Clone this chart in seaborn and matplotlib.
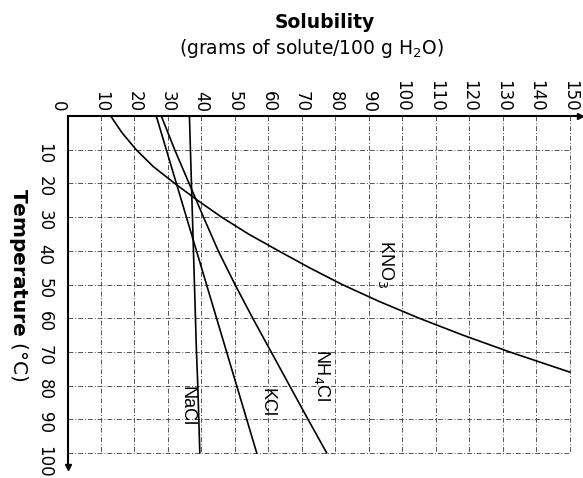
import matplotlib
matplotlib.use("Agg")
import matplotlib.pyplot as plt
import seaborn as sns
import pandas as pd

# solubility curves (grams solute / 100 g water)
temps = [0, 10, 20, 30, 40, 50, 60, 70, 80, 90, 100]
kno3_temps = [0, 5, 10, 15, 20, 25, 30, 35, 40, 45, 50, 55, 60, 65, 70, 73, 76]
kno3 = [12.9, 16.3, 20.5, 25.6, 32, 38.8, 46, 54, 63, 72.2, 82, 93, 105, 118, 132, 141, 150]
nh4cl = [28, 32, 36.3, 40.6, 45, 50, 55.3, 60.8, 66.3, 71.8, 77.4]
kcl = [26.5, 29.5, 32.5, 35.5, 38.5, 41.5, 44.5, 47.5, 50.5, 53.5, 56.5]
nacl = [36.4, 36.7, 37.0, 37.3, 37.6, 37.9, 38.2, 38.5, 38.9, 39.2, 39.5]

sol_ticks = [10, 20, 30, 40, 50, 60, 70, 80, 90, 100, 110, 120, 130, 140, 150]
temp_ticks = [10, 20, 30, 40, 50, 60, 70, 80, 90, 100]

frames = [
    pd.DataFrame({"temp": kno3_temps, "sol": kno3, "salt": "KNO3"}),
    pd.DataFrame({"temp": temps, "sol": nh4cl, "salt": "NH4Cl"}),
    pd.DataFrame({"temp": temps, "sol": kcl, "salt": "KCl"}),
    pd.DataFrame({"temp": temps, "sol": nacl, "salt": "NaCl"}),
]
df = pd.concat(frames, ignore_index=True)

sns.set_style("white")
plt.rcParams["font.family"] = ["DejaVu Sans"]
plt.rcParams["mathtext.fontset"] = "dejavusans"
for key in ["text.color", "xtick.color", "ytick.color", "axes.labelcolor"]:
    plt.rcParams[key] = "black"

fig = plt.figure(figsize=(5.83, 4.78), dpi=100)
ax = fig.add_axes([0.1158, 0.024, 0.879, 0.7333])

# grid box 0-150 x 0-100, dash-dot like the scan
grid_style = dict(color="#555555", lw=0.7, linestyle=(0, (5, 2, 1, 2)))
ax.vlines(sol_ticks, 0, 100, **grid_style)
ax.hlines(temp_ticks, 0, 150, **grid_style)

sns.lineplot(data=df, x="sol", y="temp", units="salt", estimator=None,
             sort=False, color="black", linewidth=1.2, ax=ax, legend=False)

ax.set_xlim(0, 153)
ax.set_ylim(104, 0)
ax.set_xlabel("")
ax.set_ylabel("")

for side in ["right", "bottom"]:
    ax.spines[side].set_visible(False)
for side in ["top", "left"]:
    ax.spines[side].set_color("black")
    ax.spines[side].set_linewidth(1.5)

ax.xaxis.tick_top()
ax.set_xticks(sol_ticks)
ax.set_xticklabels([str(t) for t in sol_ticks], rotation=-90, fontsize=12)
ax.set_yticks(temp_ticks)
ax.set_yticklabels([str(t) for t in temp_ticks], rotation=-90, fontsize=12)
ax.tick_params(axis="x", length=0, pad=3)
ax.tick_params(axis="y", length=0, pad=10)
ax.annotate("0", xy=(0, 0), xytext=(-7, 3), textcoords="offset points",
            rotation=-90, ha="center", va="bottom", fontsize=12,
            annotation_clip=False)

# arrow heads at axis ends
ax.plot(1, 1, ">", color="black", ms=5, transform=ax.transAxes, clip_on=False)
ax.plot(0, 0, "v", color="black", ms=5, transform=ax.transAxes, clip_on=False)

# curve labels
label_font = dict(rotation=-90, ha="center", va="center", fontsize=13,
                  family=["Liberation Sans"])
ax.text(95, 44, "KNO$_3$", **label_font)
ax.text(76, 77, "NH$_4$Cl", **label_font)
ax.text(59.5, 85, "KCl", **label_font)
ax.text(35.6, 86, "NaCl", **label_font)

fig.text(325 / 583, 1 - 23 / 478, "Solubility", ha="center", va="center",
         fontsize=13.5, fontweight="bold")
fig.text(312 / 583, 1 - 48 / 478, "(grams of solute/100 g H$_2$O)",
         ha="center", va="center", fontsize=13.5)
fig.text(18 / 583, 1 - 285 / 478, r"$\mathbf{Temperature}$ (°C)",
         rotation=-90, ha="center", va="center", fontsize=14.5)

fig.savefig("out.png", dpi=100)
